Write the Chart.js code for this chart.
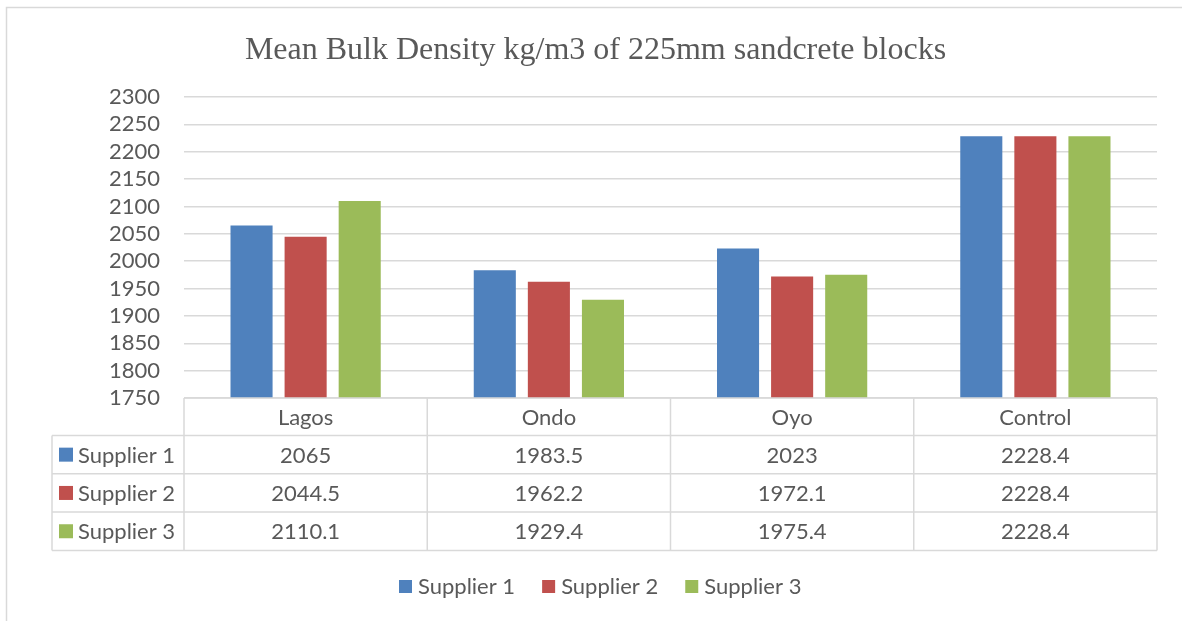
<!DOCTYPE html>
<html>
<head>
<meta charset="utf-8">
<script src="https://cdn.jsdelivr.net/npm/chart.js@4/dist/chart.umd.min.js"></script>
<style>
  body { margin: 0; background: #fff; }
  #wrap { width: 1182px; height: 621px; }
</style>
</head>
<body>
<div id="wrap"><canvas id="myChart" width="1182" height="621"></canvas></div>
<script>
const chartTitle = 'Mean Bulk Density kg/m3 of 225mm sandcrete blocks'
const categories = ['Lagos', 'Ondo', 'Oyo', 'Control']
const seriesNames = ['Supplier 1', 'Supplier 2', 'Supplier 3']
const supplier1 = [2065, 1983.5, 2023, 2228.4]
const supplier2 = [2044.5, 1962.2, 1972.1, 2228.4]
const supplier3 = [2110.1, 1929.4, 1975.4, 2228.4]
const yMin = 1750
const yMax = 2300
const yStep = 50

const colors = ['#4f81bd', '#c0504d', '#9bbb59']
const textColor = '#595959'
const lineColor = '#d9d9d9'
const sansFont = 'Lato, "Liberation Sans", sans-serif'
const fontSize = 22

const seriesValues = [supplier1, supplier2, supplier3]

// draws the outer frame, the data table under the plot and the legend
const tablePlugin = {
    id: 'dataTable',
    beforeDraw(chart) {
        const ctx = chart.ctx
        ctx.save()
        ctx.strokeStyle = lineColor
        ctx.lineWidth = 1.5
        ctx.strokeRect(6.5, 7.5, 1400, 800)
        ctx.restore()
    },
    afterDraw(chart) {
        const ctx = chart.ctx
        const area = chart.chartArea
        const x = chart.scales.x
        const colW = x.width / categories.length
        const top = area.bottom
        const headH = 37.5
        const rowH = 38.3
        const labelLeft = 52
        const bottom = top + headH + rowH * seriesNames.length

        ctx.save()
        ctx.strokeStyle = lineColor
        ctx.lineWidth = 1.5
        ctx.beginPath()
        // horizontal lines
        ctx.moveTo(area.left, top)
        ctx.lineTo(area.right, top)
        for (let r = 0; r <= seriesNames.length; r++) {
            const y = top + headH + rowH * r
            ctx.moveTo(labelLeft, y)
            ctx.lineTo(area.right, y)
        }
        // vertical lines
        ctx.moveTo(labelLeft, top + headH)
        ctx.lineTo(labelLeft, bottom)
        for (let c = 0; c <= categories.length; c++) {
            const xx = area.left + colW * c
            ctx.moveTo(xx, top)
            ctx.lineTo(xx, bottom)
        }
        ctx.stroke()

        ctx.font = fontSize + 'px ' + sansFont
        ctx.fillStyle = textColor
        ctx.textBaseline = 'middle'
        ctx.textAlign = 'center'
        categories.forEach((cat, i) => {
            ctx.fillText(cat, x.getPixelForValue(i), top + headH / 2 + 1)
        })
        seriesNames.forEach((name, r) => {
            const cy = top + headH + rowH * r + rowH / 2 + 1
            ctx.textAlign = 'center'
            ctx.fillStyle = textColor
            seriesValues[r].forEach((v, i) => {
                ctx.fillText(String(v), x.getPixelForValue(i), cy)
            })
            ctx.fillStyle = colors[r]
            ctx.fillRect(59, cy - 8, 14, 14)
            ctx.fillStyle = textColor
            ctx.textAlign = 'left'
            ctx.fillText(name, 78, cy)
        })

        // legend
        const gap = 27
        const box = 13
        const widths = seriesNames.map(n => box + 6 + ctx.measureText(n).width)
        let lx = 399
        const ly = 587
        seriesNames.forEach((name, r) => {
            ctx.fillStyle = colors[r]
            ctx.fillRect(lx, ly - 7, box, box)
            ctx.fillStyle = textColor
            ctx.textAlign = 'left'
            ctx.fillText(name, lx + box + 6, ly)
            lx += widths[r] + gap
        })
        ctx.restore()
    }
}

new Chart(document.getElementById('myChart').getContext('2d'), {
    type: 'bar',
    data: {
        labels: categories,
        datasets: seriesNames.map((name, i) => ({
            label: name,
            data: seriesValues[i],
            backgroundColor: colors[i],
            borderWidth: 0,
            categoryPercentage: 0.667,
            barPercentage: 0.778
        }))
    },
    options: {
        responsive: false,
        animation: false,
        devicePixelRatio: 1,
        layout: {
            padding: { left: 34, right: 25, top: 0, bottom: 223 }
        },
        plugins: {
            legend: { display: false },
            tooltip: { enabled: false },
            title: {
                display: true,
                text: chartTitle,
                color: textColor,
                font: { family: '"Liberation Serif", "Times New Roman", serif', size: 32, weight: 'normal' },
                padding: { top: 31, bottom: 27.6 }
            }
        },
        scales: {
            x: {
                grid: { display: false, drawTicks: false },
                border: { display: false },
                ticks: { display: false },
                afterFit: s => { s.height = 0 }
            },
            y: {
                min: yMin,
                max: yMax,
                grid: { color: lineColor, lineWidth: 1.5, drawTicks: false },
                border: { display: false },
                ticks: {
                    stepSize: yStep,
                    autoSkip: false,
                    padding: 24,
                    color: textColor,
                    font: { family: sansFont, size: fontSize },
                    callback: v => String(v)
                },
                afterFit: s => { s.width = 150 }
            }
        }
    },
    plugins: [tablePlugin]
})
</script>
</body>
</html>
